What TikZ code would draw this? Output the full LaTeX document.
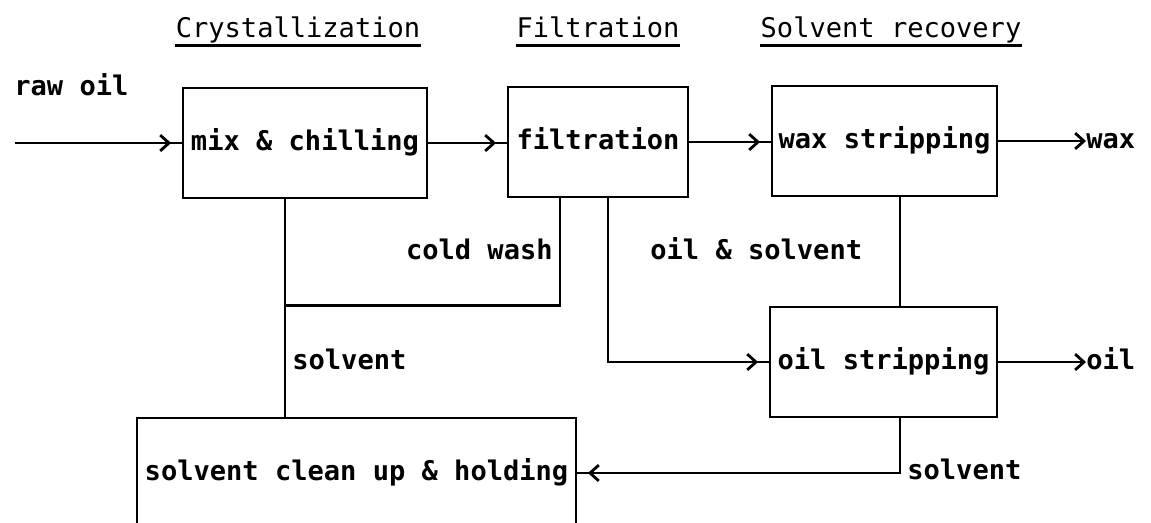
\documentclass[tikz,border=0pt]{standalone}
\usepackage{fontspec}
\setmonofont{DejaVu Sans Mono}
\usetikzlibrary{arrows.meta,decorations.markings}
\tikzset{
  box/.style={draw,line width=1.6pt,minimum height=2.2cm,inner sep=0pt,text height=11pt,text depth=3pt,font=\ttfamily\bfseries\fontsize{15.4}{18}\selectfont},
  note/.style={inner sep=0pt,text height=11pt,text depth=3pt,font=\ttfamily\bfseries\fontsize{15.4}{18}\selectfont},
  heading/.style={inner sep=0pt,text height=11pt,text depth=3pt,font=\ttfamily\fontsize{15.4}{18}\selectfont},
  pipe/.style={line width=1.6pt},
  flow/.style={pipe,postaction={decorate},decoration={markings,mark=at position -6pt with {\arrow{Straight Barb[length=5pt,width=9pt]}}}},
  flowend/.style={pipe,-{Straight Barb[length=5pt,width=9pt]}}
}
\begin{document}
\begin{tikzpicture}[x=0.02cm,y=-0.02cm]
\useasboundingbox (0,0) rectangle (1151,522);
\clip (0,0) rectangle (1151,522);
\node[heading] (hcry) at (298,30) {Crystallization};
\node[heading] (hfil) at (598,30) {Filtration};
\node[heading] (hsol) at (891,30) {Solvent recovery};
\foreach \h in {hcry,hfil,hsol}
  \draw[pipe] ([yshift=-5pt]\h.base west) -- ([yshift=-5pt]\h.base east);
\node[box,minimum width=4.88cm] (mix) at (305,143) {mix \& chilling};
\node[box,minimum width=3.6cm] (filt) at (598,142) {filtration};
\node[box,minimum width=4.5cm] (wax) at (884.5,141) {wax stripping};
\node[box,minimum width=4.54cm] (oil) at (883.5,362) {oil stripping};
\node[box,minimum width=8.78cm] (hold) at (356.5,473) {solvent clean up \& holding};
\node[note,anchor=west] (rawoil) at (14,88) {raw oil};
\coordinate (feed) at (15,143);
\node[note,anchor=west] (waxout) at (1086,141) {wax};
\node[note,anchor=west] (oilout) at (1086,362) {oil};
\node[note,anchor=east] (coldwash) at (553,252) {cold wash};
\node[note,anchor=west] (oilsolv) at (650,252) {oil \& solvent};
\node[note,anchor=west] (solv1) at (292,362) {solvent};
\node[note,anchor=west] (solv2) at (907,472) {solvent};
\draw[flow] (feed) -- (mix);
\draw[flow] (mix.east) -- (mix.east -| filt.west);
\draw[flow] (filt.east) -- (filt.east -| wax.west);
\draw[flowend] (wax.east) -- (wax.east -| waxout.west);
\draw[flowend] (oil.east) -- (oil.east -| oilout.west);
\draw[flow] ([xshift=0.2cm]filt.south) |- (oil.west);
\draw[pipe] ([xshift=-0.76cm]filt.south) |- ([xshift=-0.4cm]mix.south |- oil.north);
\draw[pipe] ([xshift=-0.4cm]mix.south) -- ([xshift=-0.4cm]mix.south |- hold.north);
\draw[pipe] ([xshift=0.31cm]wax.south) -- ([xshift=0.31cm]wax.south |- oil.north);
\draw[flow] ([xshift=0.33cm]oil.south) |- (hold.east);
\end{tikzpicture}
\end{document}
